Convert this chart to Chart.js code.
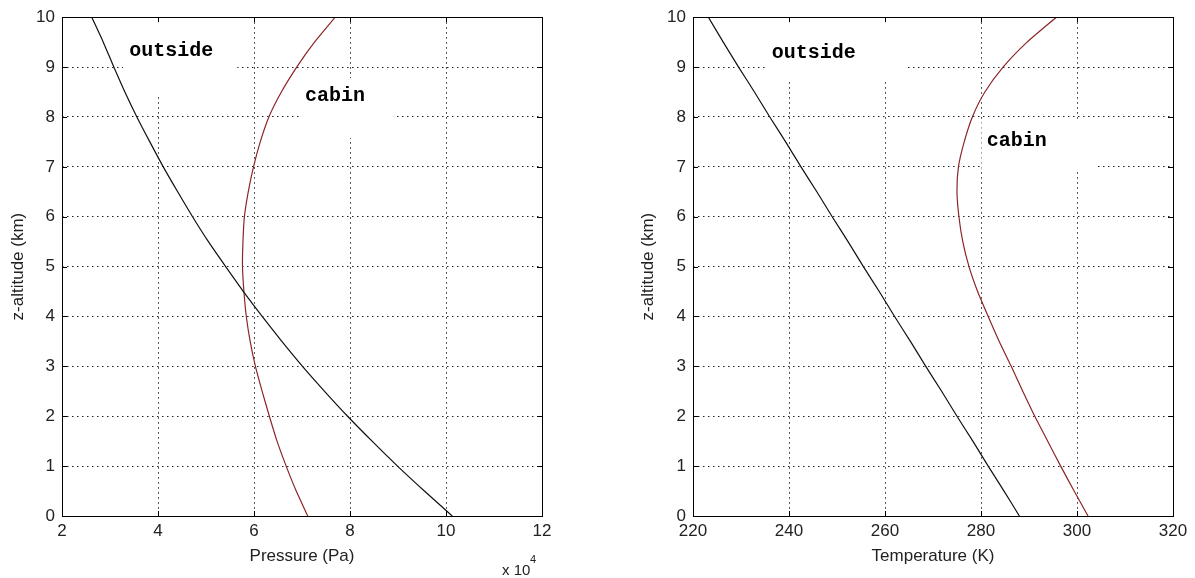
<!DOCTYPE html>
<html>
<head>
<meta charset="utf-8">
<title>Cabin / outside profiles</title>
<script src="https://cdn.jsdelivr.net/npm/chart.js@4.4.0/dist/chart.umd.min.js"></script>
<style>
  html, body { margin: 0; padding: 0; background: #fff; }
  #wrap { position: relative; width: 1195px; height: 578px; }
  canvas { position: absolute; top: 0; }
  #graficoPressao { left: 0; }
  #graficoTemp { left: 598px; }
</style>
</head>
<body>
<div id="wrap">
  <canvas id="graficoPressao" width="597" height="578"></canvas>
  <canvas id="graficoTemp" width="597" height="578"></canvas>
</div>
<script>
// altitude (km), shared by all four profiles
const altitude = [0, 0.5, 1, 1.5, 2, 2.5, 3, 3.5, 4, 4.5, 5, 5.5, 6, 6.5, 7, 7.5, 8, 8.5, 9, 9.5, 10];

// pressure, in units of 10^4 Pa
const pressaoFora = [10.13, 9.55, 8.99, 8.46, 7.95, 7.47, 7.01, 6.58, 6.17, 5.78, 5.41,
                     5.05, 4.72, 4.41, 4.11, 3.83, 3.56, 3.31, 3.08, 2.86, 2.62];
const pressaoCabine = [7.12, 6.88, 6.67, 6.48, 6.32, 6.17, 6.03, 5.92, 5.84, 5.79, 5.76,
                       5.77, 5.80, 5.88, 5.99, 6.13, 6.31, 6.57, 6.89, 7.26, 7.69];

// temperature (K)
const tempFora = [288.0, 284.8, 281.5, 278.3, 275.0, 271.8, 268.5, 265.3, 262.0, 258.8, 255.5,
                  252.3, 249.0, 245.8, 242.5, 239.3, 236.0, 232.8, 229.5, 226.3, 223.2];
const tempCabine = [302.3, 299.4, 296.6, 293.9, 291.2, 288.7, 286.3, 283.8, 281.5, 279.3, 277.5,
                    276.2, 275.4, 275.0, 275.3, 276.5, 278.2, 280.8, 284.6, 289.6, 295.7];

// tick labels
const ticksAltitude = [0, 1, 2, 3, 4, 5, 6, 7, 8, 9, 10];
const ticksPressao = [2, 4, 6, 8, 10, 12];
const ticksTemp = [220, 240, 260, 280, 300, 320];

const corFora = '#111111';
const corCabine = '#8c2626';

function montarPontos(xs) {
    return xs.map(function (v, i) { return { x: v, y: altitude[i] }; });
}

// frame, inward ticks and the text labels with their white boxes
const moldura = {
    id: 'moldura',
    beforeDatasetsDraw(chart, args, opts) {
        const { ctx, chartArea } = chart;
        const xs = chart.scales.x, ys = chart.scales.y;
        ctx.save();
        ctx.beginPath();
        ctx.rect(chartArea.left, chartArea.top, chartArea.right - chartArea.left, chartArea.bottom - chartArea.top);
        ctx.clip();
        ctx.fillStyle = '#ffffff';
        opts.rotulos.forEach(function (r) {
            const x0 = xs.getPixelForValue(r.caixa[0]);
            const x1 = xs.getPixelForValue(r.caixa[1]);
            const y0 = ys.getPixelForValue(r.caixa[2]);
            const y1 = ys.getPixelForValue(r.caixa[3]);
            ctx.fillRect(x0, y0, x1 - x0, y1 - y0);
        });
        ctx.restore();
    },
    afterDraw(chart, args, opts) {
        const { ctx, chartArea } = chart;
        const xs = chart.scales.x, ys = chart.scales.y;
        const { left, right, top, bottom } = chartArea;
        ctx.save();
        ctx.strokeStyle = '#000';
        ctx.lineWidth = 1;
        ctx.setLineDash([]);
        ctx.strokeRect(Math.round(left) + 0.5, Math.round(top) + 0.5, Math.round(right - left), Math.round(bottom - top));

        const tam = 5;
        ctx.beginPath();
        opts.ticksX.forEach(function (v) {
            const px = Math.round(xs.getPixelForValue(v)) + 0.5;
            ctx.moveTo(px, bottom); ctx.lineTo(px, bottom - tam);
            ctx.moveTo(px, top); ctx.lineTo(px, top + tam);
        });
        ticksAltitude.forEach(function (v) {
            const py = Math.round(ys.getPixelForValue(v)) + 0.5;
            ctx.moveTo(left, py); ctx.lineTo(left + tam, py);
            ctx.moveTo(right, py); ctx.lineTo(right - tam, py);
        });
        ctx.stroke();

        ctx.fillStyle = '#000';
        ctx.font = 'bold 20px "Liberation Mono", "Courier New", monospace';
        ctx.textBaseline = 'alphabetic';
        ctx.textAlign = 'left';
        opts.rotulos.forEach(function (r) {
            ctx.fillText(r.texto, xs.getPixelForValue(r.x), ys.getPixelForValue(r.y));
        });

        if (opts.expoente) {
            ctx.fillStyle = '#222';
            ctx.font = '15px "Liberation Sans", Arial, sans-serif';
            ctx.fillText('x 10', right - 40, 575);
            ctx.font = '11px "Liberation Sans", Arial, sans-serif';
            ctx.fillText('4', right - 12, 563);
        }
        ctx.restore();
    }
};

function criarGrafico(id, fora, cabine, ticksX, tituloX, larguraY, paddingTitulo, paddingDir, rotulos, expoente) {
    const fonteTick = { family: '"Liberation Sans", Arial, sans-serif', size: 17 };
    const config = {
        type: 'scatter',
        data: {
            datasets: [
                {
                    label: 'outside',
                    data: montarPontos(fora),
                    showLine: true,
                    borderColor: corFora,
                    borderWidth: 1.2,
                    pointRadius: 0,
                    tension: 0.2
                },
                {
                    label: 'cabin',
                    data: montarPontos(cabine),
                    showLine: true,
                    borderColor: corCabine,
                    borderWidth: 1.2,
                    pointRadius: 0,
                    tension: 0.2
                }
            ]
        },
        options: {
            responsive: false,
            animation: false,
            layout: { padding: { top: 16, right: paddingDir, left: 0, bottom: 0 } },
            plugins: {
                legend: { display: false },
                tooltip: { enabled: false },
                moldura: { rotulos: rotulos, ticksX: ticksX, expoente: expoente }
            },
            scales: {
                x: {
                    type: 'linear',
                    min: ticksX[0],
                    max: ticksX[ticksX.length - 1],
                    afterFit: function (s) { s.height = 62; },
                    afterBuildTicks: function (s) { s.ticks = ticksX.map(function (v) { return { value: v }; }); },
                    ticks: { color: '#222', font: fonteTick, padding: 5, maxRotation: 0 },
                    grid: { color: '#222', lineWidth: 1, drawTicks: false },
                    border: { display: false, dash: [1.5, 3.5] },
                    title: { display: true, text: tituloX, color: '#222', font: fonteTick, padding: { top: 0, bottom: 11 } }
                },
                y: {
                    type: 'linear',
                    min: 0,
                    max: 10,
                    afterFit: function (s) { s.width = larguraY; },
                    afterBuildTicks: function (s) { s.ticks = ticksAltitude.map(function (v) { return { value: v }; }); },
                    ticks: { color: '#222', font: fonteTick, padding: 7 },
                    grid: { color: '#222', lineWidth: 1, drawTicks: false },
                    border: { display: false, dash: [1.5, 3.5] },
                    title: { display: true, text: 'z-altitude (km)', color: '#222', font: fonteTick, padding: { top: paddingTitulo, bottom: 0 } }
                }
            }
        },
        plugins: [moldura]
    };
    return new Chart(document.getElementById(id), config);
}

criarGrafico('graficoPressao', pressaoFora, pressaoCabine, ticksPressao, 'Pressure (Pa)', 62, 8, 55, [
    { texto: 'outside', x: 3.40, y: 9.22, caixa: [3.27, 5.65, 10.2, 8.44] },
    { texto: 'cabin', x: 7.06, y: 8.32, caixa: [7.0, 8.94, 8.78, 7.58] }
], true);

criarGrafico('graficoTemp', tempFora, tempCabine, ticksTemp, 'Temperature (K)', 95, 40, 22, [
    { texto: 'outside', x: 236.4, y: 9.19, caixa: [235.3, 264.5, 10.2, 8.72] },
    { texto: 'cabin', x: 281.2, y: 7.41, caixa: [280.1, 304.3, 7.96, 6.92] }
], false);
</script>
</body>
</html>
